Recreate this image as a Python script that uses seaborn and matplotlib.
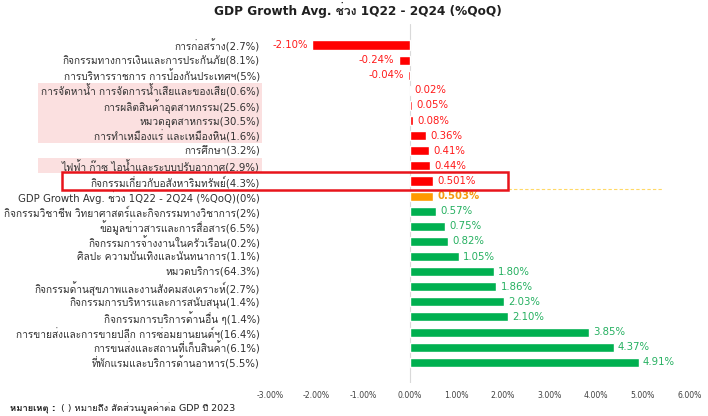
import matplotlib
matplotlib.use('Agg')
import matplotlib.pyplot as plt
import matplotlib.transforms as mtransforms
from matplotlib import font_manager
from matplotlib.ft2font import FT2Font
from matplotlib.patches import Rectangle
import pandas as pd
import seaborn as sns

# --- data (top to bottom) ---
sectors = [
    'การก่อสร้าง(2.7%)',
    'กิจกรรมทางการเงินและการประกันภัย(8.1%)',
    'การบริหารราชการ การป้องกันประเทศฯ(5%)',
    'การจัดหาน้ำ การจัดการน้ำเสียและของเสีย(0.6%)',
    'การผลิตสินค้าอุตสาหกรรม(25.6%)',
    'หมวดอุตสาหกรรม(30.5%)',
    'การทำเหมืองแร่ และเหมืองหิน(1.6%)',
    'การศึกษา(3.2%)',
    'ไฟฟ้า ก๊าซ ไอน้ำและระบบปรับอากาศ(2.9%)',
    'กิจกรรมเกี่ยวกับอสังหาริมทรัพย์(4.3%)',
    'GDP Growth Avg. ช่วง 1Q22 - 2Q24 (%QoQ)(0%)',
    'กิจกรรมวิชาชีพ วิทยาศาสตร์และกิจกรรมทางวิชาการ(2%)',
    'ข้อมูลข่าวสารและการสื่อสาร(6.5%)',
    'กิจกรรมการจ้างงานในครัวเรือน(0.2%)',
    'ศิลปะ ความบันเทิงและนันทนาการ(1.1%)',
    'หมวดบริการ(64.3%)',
    'กิจกรรมด้านสุขภาพและงานสังคมสงเคราะห์(2.7%)',
    'กิจกรรมการบริหารและการสนับสนุน(1.4%)',
    'กิจกรรมการบริการด้านอื่น ๆ(1.4%)',
    'การขายส่งและการขายปลีก การซ่อมยานยนต์ฯ(16.4%)',
    'การขนส่งและสถานที่เก็บสินค้า(6.1%)',
    'ที่พักแรมและบริการด้านอาหาร(5.5%)',
]
growth = [-2.10, -0.24, -0.04, 0.02, 0.05, 0.08, 0.36, 0.41, 0.44, 0.501,
          0.503, 0.57, 0.75, 0.82, 1.05, 1.80, 1.86, 2.03, 2.10, 3.85, 4.37, 4.91]
growth_labels = ['-2.10%', '-0.24%', '-0.04%', '0.02%', '0.05%', '0.08%', '0.36%',
                 '0.41%', '0.44%', '0.501%', '0.503%', '0.57%', '0.75%', '0.82%',
                 '1.05%', '1.80%', '1.86%', '2.03%', '2.10%', '3.85%', '4.37%', '4.91%']
group = ['below'] * 10 + ['avg'] + ['above'] * 11
ticks = [-3, -2, -1, 0, 1, 2, 3, 4, 5, 6]
tick_labels = ['-3.00%', '-2.00%', '-1.00%', '0.00%', '1.00%', '2.00%',
               '3.00%', '4.00%', '5.00%', '6.00%']

title = 'GDP Growth Avg. ช่วง 1Q22 - 2Q24 (%QoQ)'
note_head = 'หมายเหตุ :'
note_body = '( ) หมายถึง สัดส่วนมูลค่าต่อ GDP ปี 2023'

colors = {'below': '#FF0000', 'avg': '#FF9900', 'above': '#00B050'}
text_colors = {'below': '#FF1A1A', 'avg': '#F59A10', 'above': '#25B060'}


def find_thai_font():
    for f in font_manager.fontManager.ttflist:
        try:
            if 0x0E01 in FT2Font(f.fname).get_charmap():
                return f.name
        except Exception:
            pass
    return None


sns.set_theme(style='white')
thai = find_thai_font()
# Latin glyphs from DejaVu Sans (Verdana-like), Thai glyphs fall back to the Thai font
plt.rcParams['font.family'] = ['DejaVu Sans'] + ([thai] if thai else [])

df = pd.DataFrame({'sector': sectors, 'growth': growth, 'group': group})

fig = plt.figure(figsize=(7.08, 4.16), dpi=100)
ax = fig.add_axes([0.381, 0.079, 0.593, 0.863])

sns.barplot(data=df, x='growth', y='sector', hue='group', palette=colors,
            dodge=False, legend=False, width=0.6, saturation=1, ax=ax, zorder=3)

ax.set_xlim(-3, 6)
ax.set_xticks(ticks)
ax.set_xticklabels(tick_labels, fontsize=5.6, color='#404040')
ax.tick_params(axis='y', labelsize=7.3, pad=7, length=0, colors='#303030')
ax.tick_params(axis='x', length=0, pad=6)
ax.set_xlabel('')
ax.set_ylabel('')
for s in ax.spines.values():
    s.set_visible(False)
ax.axvline(0, color='#D9D9D9', lw=0.8, zorder=1)

# value labels
for i, (v, lab, g) in enumerate(zip(growth, growth_labels, group)):
    off = 0.09
    ax.text(v + off if v >= 0 else v - off, i, lab,
            ha='left' if v >= 0 else 'right', va='center',
            fontsize=7.3, color=text_colors[g],
            fontweight='bold' if g == 'avg' else 'normal', zorder=4)

# highlight boxes behind labels
blend = mtransforms.blended_transform_factory(fig.transFigure, ax.transData)
for y0, h in [(2.5, 4.0), (7.5, 1.0)]:
    ax.add_patch(Rectangle((38 / 708, y0), (262 - 38) / 708, h, transform=blend,
                           facecolor='#FBE0E0', edgecolor='none',
                           clip_on=False, zorder=0))

ax.add_patch(Rectangle((62 / 708, 8.4), (508 - 62) / 708, 1.2, transform=blend,
                       facecolor='none', edgecolor='#E8141B', lw=1.8,
                       clip_on=False, zorder=5))
ax.plot([2.1, 5.4], [9.55, 9.55], ls=(0, (3, 2)), color='#FFD966', lw=0.8, zorder=2)

fig.text(0.505, 0.975, title, ha='center', va='center', fontsize=8.7, fontweight='bold',
         color='#202020')
head = fig.text(0.014, 0.018, note_head, ha='left', va='center', fontsize=6.8,
                fontweight='bold', color='#202020')
ax.annotate(note_body, xy=(1, 0.5), xycoords=head, xytext=(4, 0),
            textcoords='offset points', ha='left', va='center', fontsize=6.8,
            color='#202020', annotation_clip=False)

fig.savefig('out.png', dpi=100)
